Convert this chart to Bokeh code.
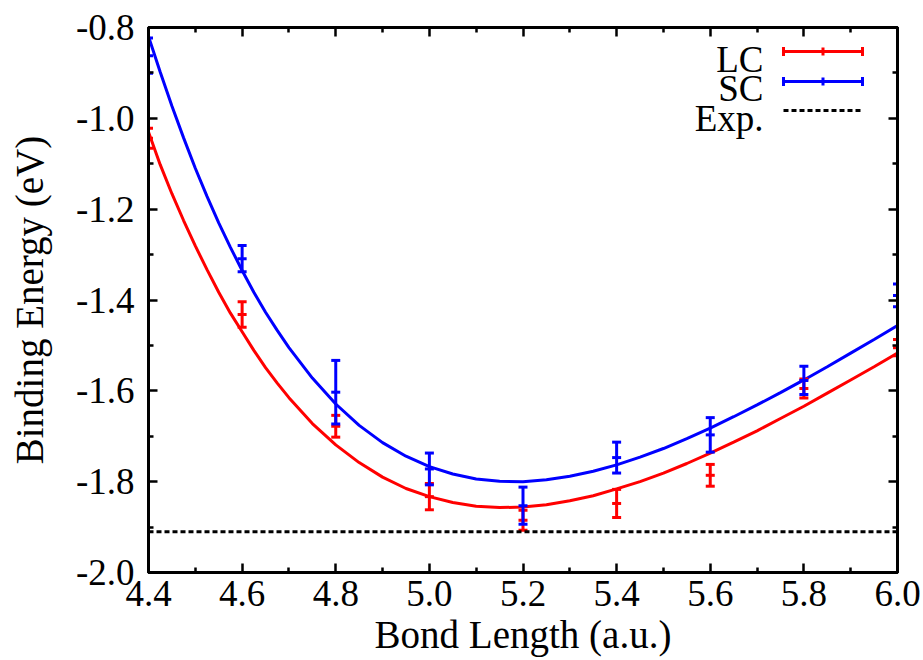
from bokeh.plotting import figure
from bokeh.models import (Range1d, FixedTicker, LinearAxis, Span, Label, Arrow,
                          TeeHead, NumeralTickFormatter, ColumnDataSource)
from bokeh.embed import file_html
from bokeh.resources import INLINE

# ---------------- data ----------------
bond_length = [4.4, 4.6, 4.8, 5.0, 5.2, 5.4, 5.6, 5.8, 6.0]
lc_energy = [-1.044, -1.432, -1.678, -1.833, -1.885, -1.848, -1.786, -1.595, -1.505]
lc_error = [0.022, 0.028, 0.024, 0.029, 0.022, 0.031, 0.024, 0.021, 0.018]
sc_energy = [-0.862, -1.309, -1.603, -1.772, -1.853, -1.747, -1.697, -1.577, -1.390]
sc_error = [0.039, 0.029, 0.070, 0.035, 0.041, 0.034, 0.038, 0.031, 0.025]

fit_x = [4.4, 4.425, 4.45, 4.475, 4.5, 4.525, 4.55, 4.575, 4.6, 4.625, 4.65, 4.675,
         4.7, 4.75, 4.8, 4.85, 4.9, 4.95, 5.0, 5.05, 5.1, 5.15, 5.2, 5.25, 5.3, 5.35,
         5.4, 5.45, 5.5, 5.55, 5.6, 5.65, 5.7, 5.75, 5.8, 5.85, 5.9, 5.95, 6.0]
lc_fit = [-1.030, -1.102, -1.166, -1.225, -1.281, -1.333, -1.383, -1.429, -1.470,
          -1.511, -1.549, -1.583, -1.615, -1.672, -1.719, -1.758, -1.790, -1.815,
          -1.833, -1.846, -1.854, -1.857, -1.856, -1.851, -1.842, -1.831, -1.816,
          -1.800, -1.781, -1.760, -1.737, -1.713, -1.688, -1.661, -1.634, -1.605,
          -1.576, -1.547, -1.517]
sc_fit = [-0.820, -0.898, -0.973, -1.043, -1.110, -1.172, -1.230, -1.284, -1.335,
          -1.383, -1.427, -1.467, -1.505, -1.572, -1.629, -1.676, -1.714, -1.744,
          -1.767, -1.783, -1.794, -1.799, -1.800, -1.796, -1.788, -1.777, -1.763,
          -1.746, -1.727, -1.705, -1.682, -1.657, -1.631, -1.604, -1.576, -1.547,
          -1.517, -1.487, -1.456]
exp_energy = -1.91

x_ticks = [4.4, 4.6, 4.8, 5.0, 5.2, 5.4, 5.6, 5.8, 6.0]
x_minor = [4.5, 4.7, 4.9, 5.1, 5.3, 5.5, 5.7, 5.9]
y_ticks = [-2.0, -1.8, -1.6, -1.4, -1.2, -1.0, -0.8]
y_minor = [-1.9, -1.7, -1.5, -1.3, -1.1, -0.9]

series_names = ["LC", "SC", "Exp."]

RED = "#ff0000"
BLUE = "#0000ff"
FONT = "Liberation Serif"

# ---------------- figure ----------------
p = figure(width=923, height=660, x_range=Range1d(4.4, 6.0), y_range=Range1d(-2.0, -0.8),
           output_backend="svg", toolbar_location=None,
           min_border_left=148, min_border_right=26, min_border_top=27, min_border_bottom=88)
p.grid.visible = False
p.outline_line_color = "black"
p.outline_line_width = 3
p.background_fill_color = "white"
p.border_fill_color = "white"


def style_axis(ax, size="37px"):
    ax.axis_line_color = "black"
    ax.axis_line_width = 3
    ax.major_tick_in = 9
    ax.major_tick_out = 0
    ax.minor_tick_in = 5
    ax.minor_tick_out = 0
    ax.major_tick_line_width = 2.5
    ax.minor_tick_line_width = 2.5
    ax.major_label_text_font = FONT
    ax.major_label_text_font_size = size
    ax.major_label_text_color = "black"
    ax.axis_label_text_font = FONT
    ax.axis_label_text_font_size = "39px"
    ax.axis_label_text_font_style = "normal"
    ax.axis_label_text_color = "black"


xt = FixedTicker(ticks=x_ticks, minor_ticks=x_minor)
yt = FixedTicker(ticks=y_ticks, minor_ticks=y_minor)

p.xaxis[0].ticker = xt
p.yaxis[0].ticker = yt
p.xaxis[0].formatter = NumeralTickFormatter(format="0.0")
p.yaxis[0].formatter = NumeralTickFormatter(format="0.0")
p.xaxis[0].axis_label = "Bond Length (a.u.)"
p.yaxis[0].axis_label = "Binding Energy (eV)"
style_axis(p.xaxis[0])
style_axis(p.yaxis[0])
p.xaxis[0].major_label_standoff = 8
p.yaxis[0].major_label_standoff = 14
p.xaxis[0].axis_label_standoff = 4
p.yaxis[0].axis_label_standoff = 22

top_ax = LinearAxis(ticker=xt, major_label_standoff=0, axis_label=None)
right_ax = LinearAxis(ticker=yt, major_label_standoff=0, axis_label=None)
style_axis(top_ax, size="0px")
style_axis(right_ax, size="0px")
p.add_layout(top_ax, "above")
p.add_layout(right_ax, "right")

# ---------------- fits ----------------
p.line(fit_x, lc_fit, line_color=RED, line_width=3)
p.line(fit_x, sc_fit, line_color=BLUE, line_width=3)

# ---------------- data with error bars ----------------
def error_bars(yv, ev, color):
    lo = [y - e for y, e in zip(yv, ev)]
    hi = [y + e for y, e in zip(yv, ev)]
    src = ColumnDataSource(dict(x=bond_length, y=yv, lo=lo, hi=hi))
    p.segment(x0="x", y0="lo", x1="x", y1="hi", source=src, line_color=color, line_width=3)
    for col in ("lo", "hi", "y"):
        p.scatter(x="x", y=col, source=src, marker="dash", size=9,
                  line_color=color, line_width=3)


error_bars(lc_energy, lc_error, RED)
error_bars(sc_energy, sc_error, BLUE)

# ---------------- experiment ----------------
p.add_layout(Span(location=exp_energy, dimension="width", line_color="black",
                  line_width=3, line_dash="5 3"))

# ---------------- legend (screen units, relative to the frame) ----------------
text_right = 615
line_x0, line_x1 = 635, 714
rows = [(513, 521, RED), (484, 491, BLUE), (454, 462, "black")]
for name, (ty, ly, col) in zip(series_names, rows):
    p.add_layout(Label(x=text_right, y=ty, x_units="screen", y_units="screen", text=name,
                       text_align="right", text_baseline="alphabetic",
                       text_font=FONT, text_font_size="37px", text_color="black"))
    if col == "black":
        p.add_layout(Arrow(x_start=line_x0, y_start=ly, x_end=line_x1, y_end=ly,
                           start_units="screen", end_units="screen", start=None, end=None,
                           line_color="black", line_width=3, line_dash="5 3"))
    else:
        p.add_layout(Arrow(x_start=line_x0, y_start=ly, x_end=line_x1, y_end=ly,
                           start_units="screen", end_units="screen",
                           start=TeeHead(size=9, line_color=col, line_width=3),
                           end=TeeHead(size=9, line_color=col, line_width=3),
                           line_color=col, line_width=3))
        mid = (line_x0 + line_x1) / 2
        p.add_layout(Arrow(x_start=mid, y_start=ly - 4, x_end=mid, y_end=ly + 4,
                           start_units="screen", end_units="screen", start=None, end=None,
                           line_color=col, line_width=3))

open("out.html", "w").write(file_html(p, INLINE))
